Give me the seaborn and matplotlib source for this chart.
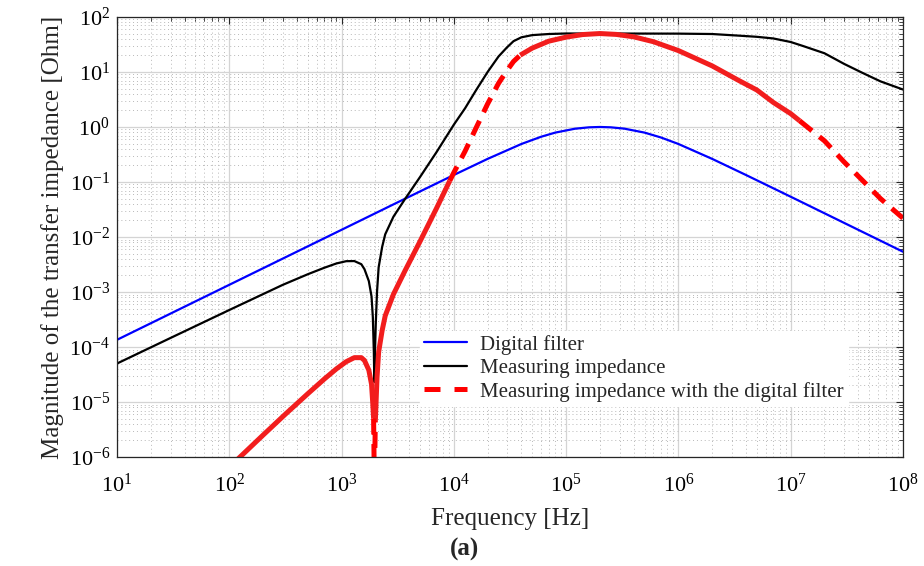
import numpy as np
import pandas as pd
import matplotlib
matplotlib.use('Agg')
import matplotlib.pyplot as plt
from matplotlib.lines import Line2D
from matplotlib.ticker import LogLocator, NullFormatter
import seaborn as sns

# --- values ---
blue_f = [10, 100, 1e3, 3e3, 1e4, 2e4, 4e4, 6e4, 8e4, 1.2e5, 1.6e5, 2e5, 2.5e5,
          3.3e5, 5e5, 7e5, 1e6, 2e6, 4e6, 1e7, 3e7, 1e8]
blue_v = [1.35e-4, 1.35e-3, 1.35e-2, 4.05e-2, 0.134, 0.263, 0.491, 0.665, 0.79, 0.93,
          0.986, 1.0, 0.986, 0.933, 0.79, 0.644, 0.491, 0.263, 0.134, 0.054, 0.018, 5.4e-3]

black_f = [10, 30, 100, 300, 500, 700, 900, 1.1e3, 1.3e3, 1.5e3, 1.6e3, 1.75e3, 1.85e3,
           1.9e3, 1.94e3, 1.96e3, 1.985e3, 2.02e3, 2.07e3, 2.14e3, 2.3e3, 2.45e3, 2.9e3,
           3.7e3, 5e3, 7e3, 1e4, 1.26e4, 1.58e4, 2e4, 2.5e4, 2.95e4, 3.4e4, 4e4, 5e4, 7e4,
           1e5, 3e5, 1e6, 2e6, 3.5e6, 5e6, 7e6, 1e7, 1.3e7, 2e7, 3e7, 4.4e7, 6.3e7, 1e8]
black_v = [5.0e-5, 1.46e-4, 4.7e-4, 1.35e-3, 2.1e-3, 2.75e-3, 3.3e-3, 3.63e-3, 3.65e-3,
           3.2e-3, 2.6e-3, 1.58e-3, 8.3e-4, 3.5e-4, 8.0e-5, 2.3e-5, 8.0e-5, 2.8e-4, 1.0e-3,
           2.8e-3, 6.6e-3, 1.12e-2, 2.34e-2, 5.0e-2, 0.123, 0.347, 1.1, 2.19, 4.68, 10.0,
           19.1, 27.5, 36.3, 42.7, 46.8, 49.0, 50.1, 50.0, 49.8, 49.0, 45.7, 43.6, 40.7,
           35.1, 29.5, 21.9, 14.0, 9.55, 6.76, 4.8]

red_f = [100, 126, 200, 316, 500, 700, 900, 1.1e3, 1.3e3, 1.5e3, 1.6e3, 1.75e3, 1.85e3,
         1.9e3, 1.93e3, 1.96e3, 2.0e3, 2.02e3, 2.07e3, 2.14e3, 2.3e3, 2.45e3, 2.9e3, 3.7e3,
         5e3, 7e3, 9.2e3, 1e4, 1.26e4, 1.58e4, 2e4, 2.5e4, 2.95e4, 3.4e4, 3.9e4, 5e4, 7e4,
         1e5, 1.4e5, 2e5, 2.8e5, 4e5, 6e5, 1e6, 2e6, 3.5e6, 5e6, 7e6, 1e7, 1.2e7, 2e7, 3e7,
         4.4e7, 6.3e7, 1e8]
red_v = [6.5e-7, 1.02e-6, 2.5e-6, 6.0e-6, 1.41e-5, 2.6e-5, 4.0e-5, 5.4e-5, 6.4e-5, 6.4e-5,
         5.7e-5, 3.8e-5, 2.1e-5, 9.1e-6, 5.0e-6, 3.2e-7, 4.5e-6, 7.6e-6, 2.8e-5, 8.1e-5,
         2.0e-4, 3.7e-4, 9.1e-4, 2.5e-3, 8.3e-3, 3.3e-2, 0.105, 0.148, 0.363, 0.966, 2.63,
         6.2, 10.4, 15.5, 20.2, 27.2, 36.3, 43.0, 47.9, 50.0, 48.2, 43.6, 35.5, 24.5, 12.9,
         6.9, 4.7, 2.8, 1.75, 1.3, 0.56, 0.23, 0.105, 0.05, 0.022]

# frequency ranges where the red curve shows as solid / dashed
red_solid = [(100, 1.93e3), (2.0e3, 9.2e3), (3.9e4, 1.2e7)]
red_dashed = [(1.93e3, 2.0e3), (9.2e3, 3.9e4), (1.2e7, 1e8)]

labels = ['Digital filter', 'Measuring impedance',
          'Measuring impedance with the digital filter']
x_ticks = [10.0 ** k for k in range(1, 9)]
y_ticks = [10.0 ** k for k in range(-6, 3)]

sns.set_style('white')
plt.rcParams['font.family'] = ['Liberation Serif', 'DejaVu Serif']
plt.rcParams['mathtext.fontset'] = 'stix'

fig = plt.figure(figsize=(9.24, 5.66), dpi=100)
ax = fig.add_axes([0.1266, 0.1926, 0.8506, 0.7774])

sns.lineplot(x=blue_f, y=blue_v, ax=ax, color='#0000ff', lw=1.6, sort=False)
sns.lineplot(x=black_f, y=black_v, ax=ax, color='black', lw=1.6, sort=False)

red = pd.DataFrame({'f': red_f, 'v': red_v})
for lo, hi in red_solid:
    seg = red[(red.f >= lo) & (red.f <= hi)]
    sns.lineplot(data=seg, x='f', y='v', ax=ax, color='#f21d1d', lw=3.6, sort=False,
                 solid_capstyle='butt')
for lo, hi in red_dashed:
    seg = red[(red.f >= lo) & (red.f <= hi)]
    sns.lineplot(data=seg, x='f', y='v', ax=ax, color='#ff0000', lw=3.6, sort=False,
                 linestyle='--', dashes=False)
    ax.lines[-1].set_dashes([3.2, 1.9])

ax.set_xscale('log')
ax.set_yscale('log')
ax.set_xlim(10, 1e8)
ax.set_ylim(1e-6, 1e2)
ax.set_xticks(x_ticks)
ax.set_yticks(y_ticks)
ax.xaxis.set_minor_locator(LogLocator(base=10, subs=np.arange(2, 10), numticks=20))
ax.yaxis.set_minor_locator(LogLocator(base=10, subs=np.arange(2, 10), numticks=20))
ax.xaxis.set_minor_formatter(NullFormatter())
ax.yaxis.set_minor_formatter(NullFormatter())

ax.grid(True, which='major', color='#d4d4d4', lw=0.9, ls='-')
ax.grid(True, which='minor', color='#b8b8b8', lw=0.7, ls=(0, (1, 3)))
ax.set_axisbelow(True)

ax.tick_params(which='both', direction='in', top=True, right=True, colors='#262626',
               labelsize=16, labelcolor='black')
ax.tick_params(which='major', length=5, width=0.8)
ax.tick_params(which='minor', length=3, width=0.6)
ax.tick_params(axis='x', pad=12)
ax.tick_params(axis='y', pad=5)
for s in ax.spines.values():
    s.set_color('#262626')
    s.set_linewidth(0.9)

ax.set_xlabel('Frequency [Hz]', fontsize=18, labelpad=8)
ax.set_ylabel('Magnitude of the transfer impedance [Ohm]', fontsize=18, labelpad=4)

handles = [Line2D([], [], color='#0000ff', lw=1.6),
           Line2D([], [], color='black', lw=1.6),
           Line2D([], [], color='#ff0000', lw=3.6, dashes=[3.2, 2.8])]
leg = ax.legend(handles, labels, loc='upper left', bbox_to_anchor=(0.385, 0.287),
                fontsize=15, frameon=True, facecolor='white', edgecolor='white',
                framealpha=1, fancybox=False, borderpad=0.2, labelspacing=0.18,
                handlelength=2.1, handletextpad=0.6, borderaxespad=0)

fig.text(0.503, 0.029, '(a)', fontsize=18, fontweight='bold', ha='center', va='center')

fig.savefig('out.png', dpi=100)
